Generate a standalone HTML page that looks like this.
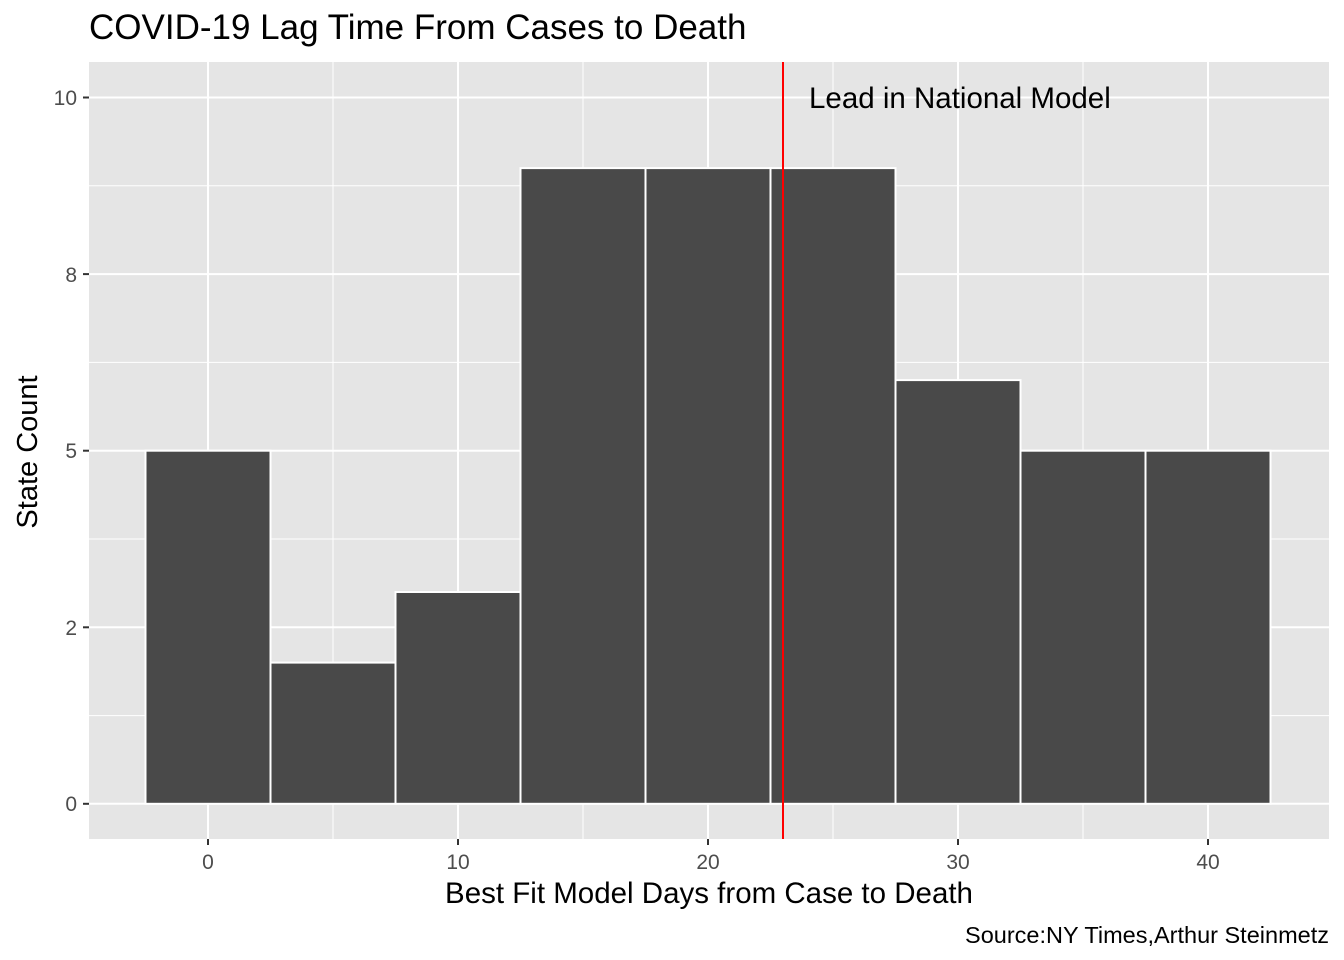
<!DOCTYPE html>
<html><head><style>body{margin:0;background:#fff}svg{display:block}</style></head><body>
<svg width="1344" height="960" xmlns="http://www.w3.org/2000/svg" font-family="Liberation Sans, Arial, sans-serif">
<rect x="0" y="0" width="1344" height="960" fill="#fff"/>
<rect x="89" y="62" width="1240" height="777" fill="#e5e5e5"/>
<g stroke="#fff" stroke-width="1">
<line x1="89" x2="1329" y1="715.6" y2="715.6"/><line x1="89" x2="1329" y1="539" y2="539"/><line x1="89" x2="1329" y1="362.4" y2="362.4"/><line x1="89" x2="1329" y1="185.8" y2="185.8"/>
<line x1="333" x2="333" y1="62" y2="839"/><line x1="583" x2="583" y1="62" y2="839"/><line x1="833" x2="833" y1="62" y2="839"/><line x1="1083" x2="1083" y1="62" y2="839"/>
</g>
<g stroke="#fff" stroke-width="2">
<line x1="89" x2="1329" y1="803.8" y2="803.8"/><line x1="89" x2="1329" y1="627.3" y2="627.3"/><line x1="89" x2="1329" y1="450.7" y2="450.7"/><line x1="89" x2="1329" y1="274.1" y2="274.1"/><line x1="89" x2="1329" y1="97.5" y2="97.5"/>
<line x1="208" x2="208" y1="62" y2="839"/><line x1="458" x2="458" y1="62" y2="839"/><line x1="708" x2="708" y1="62" y2="839"/><line x1="958" x2="958" y1="62" y2="839"/><line x1="1208" x2="1208" y1="62" y2="839"/>
</g>
<g fill="#494949" stroke="#fff" stroke-width="2">
<rect x="145.5" y="450.7" width="125" height="353.1"/>
<rect x="270.5" y="662.6" width="125" height="141.2"/>
<rect x="395.5" y="592" width="125" height="211.8"/>
<rect x="520.5" y="168.1" width="125" height="635.7"/>
<rect x="645.5" y="168.1" width="125" height="635.7"/>
<rect x="770.5" y="168.1" width="125" height="635.7"/>
<rect x="895.5" y="380.1" width="125" height="423.7"/>
<rect x="1020.5" y="450.7" width="125" height="353.1"/>
<rect x="1145.5" y="450.7" width="125" height="353.1"/>
</g>
<line x1="783" x2="783" y1="62" y2="839" stroke="#ff0000" stroke-width="2"/>
<text x="809" y="108" font-size="29.5" fill="#000">Lead in National Model</text>
<g stroke="#333" stroke-width="2">
<line x1="83" x2="89" y1="803.8" y2="803.8"/><line x1="83" x2="89" y1="627.3" y2="627.3"/><line x1="83" x2="89" y1="450.7" y2="450.7"/><line x1="83" x2="89" y1="274.1" y2="274.1"/><line x1="83" x2="89" y1="97.5" y2="97.5"/>
<line x1="208" x2="208" y1="839" y2="845"/><line x1="458" x2="458" y1="839" y2="845"/><line x1="708" x2="708" y1="839" y2="845"/><line x1="958" x2="958" y1="839" y2="845"/><line x1="1208" x2="1208" y1="839" y2="845"/>
</g>
<g font-size="21" fill="#4d4d4d" text-anchor="end">
<text x="77" y="811">0</text><text x="77" y="635">2</text><text x="77" y="458">5</text><text x="77" y="282">8</text><text x="77" y="105">10</text>
</g>
<g font-size="21" fill="#4d4d4d" text-anchor="middle">
<text x="208" y="869">0</text><text x="458" y="869">10</text><text x="708" y="869">20</text><text x="958" y="869">30</text><text x="1208" y="869">40</text>
</g>
<text x="709" y="903" font-size="29.5" text-anchor="middle" fill="#000">Best Fit Model Days from Case to Death</text>
<text transform="translate(37,452) rotate(-90)" font-size="29" text-anchor="middle" fill="#000">State Count</text>
<text x="89" y="39" font-size="35" fill="#000">COVID-19 Lag Time From Cases to Death</text>
<text x="1329" y="943" font-size="23.5" text-anchor="end" fill="#000">Source:NY Times,Arthur Steinmetz</text>
</svg>
</body></html>
